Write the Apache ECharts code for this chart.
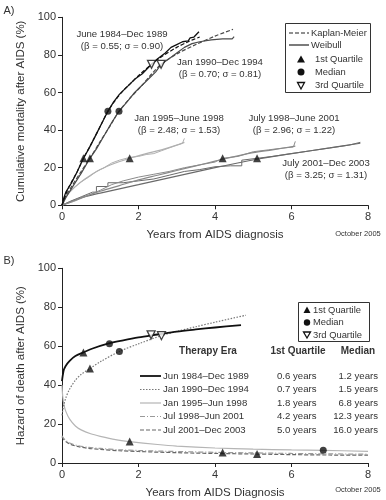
<!DOCTYPE html>
<html><head><meta charset="utf-8">
<script src="https://cdn.jsdelivr.net/npm/echarts@6/dist/echarts.min.js"></script>
<style>html,body{margin:0;padding:0;background:#fff}#c{width:386px;height:500px}</style>
</head><body><div id="c"></div>
<script>
// ---------- Panel A: cumulative mortality (x = years, y = %) ----------
const kmEra1 = [[0,0],[0.05,4],[0.1,7],[0.15,8],[0.25,12],[0.4,18],[0.56,25],[0.7,30],[0.9,38],[1.05,44],[1.2,50],[1.35,55],[1.5,59],[1.7,63],[1.9,67],[2.1,70],[2.34,75],[2.5,78],[2.7,81],[2.85,84],[3.0,85.5],[3.15,87],[3.3,87.5],[3.35,89],[3.45,89.5],[3.5,90.5],[3.58,92.3]];
const wbEra1 = [[0,0],[0.1,6],[0.2,10.5],[0.4,18],[0.56,25],[0.8,34],[1.0,42],[1.2,50],[1.4,56],[1.6,61],[1.8,65],[2.0,69],[2.34,75],[2.6,79],[3.0,84],[3.3,87],[3.6,89.5]];
const kmEra2 = [[0,0],[0.1,4],[0.25,9],[0.5,17],[0.73,25],[0.9,30],[1.1,37],[1.3,44],[1.49,50],[1.7,55],[1.9,60],[2.1,64],[2.3,68],[2.45,71],[2.59,75],[2.8,78],[3.0,81],[3.2,84],[3.4,86],[3.6,87],[3.9,88],[4.2,88.5],[4.45,88.5],[4.5,89.7]];
const wbEra2 = [[0,0],[0.1,5],[0.25,10],[0.5,18],[0.73,25],[1.0,34],[1.25,42],[1.49,50],[1.8,57.5],[2.1,64],[2.35,70],[2.59,75],[3.0,80.5],[3.5,85.5],[4.0,90],[4.47,93.6]];
const kmEra3 = [[0,0],[0.05,3],[0.1,5],[0.2,7.5],[0.35,10],[0.5,12.5],[0.7,15],[0.9,18],[1.1,20],[1.3,22.5],[1.5,24],[1.77,25.5],[2.0,26],[2.2,27],[2.4,27.5],[2.6,29],[2.8,30.5],[3.0,32],[3.15,33],[3.2,35.6]];
const wbEra3 = [[0,0],[0.1,4.5],[0.3,9],[0.6,14],[1.0,19],[1.4,22.5],[1.77,25],[2.2,27.5],[2.6,29.5],[3.0,32],[3.2,33.5]];
const kmEra4 = [[0,0],[0.3,2],[0.6,4.5],[1.0,8],[1.3,11],[1.6,13],[2.0,15],[2.4,16.5],[2.8,18],[3.2,20],[3.6,21.5],[4.0,23],[4.2,25],[4.6,26],[5.0,28.5],[5.4,29.5],[5.8,30.5],[6.05,31],[6.1,34]];
const wbEra4 = [[0,0],[0.5,4],[1,7.5],[1.5,10.5],[2,13.5],[2.5,16],[3,18.5],[3.5,21],[4,23.5],[4.2,24.5],[5,28],[5.5,29.5],[6.1,31.5]];
const kmEra5 = [[0,0],[0.2,2],[0.5,4.5],[0.8,7],[0.9,7],[0.9,10],[1.2,10],[1.2,12],[1.6,12],[1.6,13],[2.0,13],[2.0,14],[2.4,14],[2.4,15],[2.8,16],[3.2,18],[3.6,19],[4.0,20.5],[4.4,21],[4.7,21],[4.7,24],[5.1,25],[5.5,26],[6.0,27.5],[6.5,29],[7.0,30.5],[7.5,32],[7.8,33.5]];
const wbEra5 = [[0,0],[0.5,4],[1,6.5],[2,11],[3,15.5],[4,20],[5.1,24.5],[6,27.5],[7,30.5],[7.8,33]];
const aQ1 = [[0.56,25],[0.73,25],[1.77,25],[4.2,25],[5.1,25]];
const aMed = [[1.2,50],[1.49,50]];
const aQ3 = [[2.34,75],[2.59,75]];

// ---------- Panel B: hazard of death (x = years, y = %) ----------
const hzEra1 = [[0,42],[0.02,45],[0.05,48],[0.1,50],[0.2,52.5],[0.35,55],[0.56,56.8],[0.8,58.8],[1.2,61.3],[1.6,63],[2.0,64.5],[2.5,66],[3.0,67.5],[3.5,68.6],[4.0,69.6],[4.68,70.8]];
const hzEra2 = [[0,24.5],[0.02,27],[0.05,30],[0.1,33.5],[0.2,38],[0.35,42.5],[0.5,45.5],[0.73,48.5],[1.0,52],[1.5,57.3],[2.0,61.2],[2.6,65.4],[3.0,67.6],[3.5,70],[4.0,72.3],[4.81,75.9]];
const hzEra3 = [[0,40],[0.02,34],[0.05,30],[0.1,26.5],[0.2,22.5],[0.35,19],[0.5,17],[0.75,15],[1.0,13.7],[1.4,12],[1.77,11],[2.5,9.5],[3.0,8.7],[4.0,7.7],[5.0,7.1],[6.0,6.7],[6.83,6.5],[8.0,6]];
const hzEra4 = [[0,14],[0.05,12.5],[0.1,11.5],[0.2,10.3],[0.4,9],[0.7,8],[1.0,7.5],[1.5,6.8],[2.0,6.4],[3.0,5.9],[4.2,5.4],[5.0,5.2],[6.0,4.9],[7.0,4.7],[8.0,4.5]];
const hzEra5 = [[0,13.5],[0.05,12],[0.1,11],[0.2,9.8],[0.4,8.5],[0.7,7.5],[1.0,7],[1.5,6.3],[2.0,5.9],[3.0,5.3],[4.0,4.9],[5.1,4.6],[6.0,4.3],[7.0,4.1],[8.0,4]];
const bQ1 = [[0.56,56.8],[0.73,48.5],[1.77,11],[4.2,5.4],[5.1,4.6]];
const bMed = [[1.24,61.3],[1.5,57.3],[6.83,6.5]];
const bQ3 = [[2.33,65.8],[2.6,65.4]];

// ---------- labels ----------
const eraLabelsA = ['June 1984\u2013Dec 1989','Jan 1990\u2013Dec 1994','Jan 1995\u2013June 1998','July 1998\u2013June 2001','July 2001\u2013Dec 2003'];
const eraParamsA = ['(\u03b2 = 0.55; \u03c3 = 0.90)','(\u03b2 = 0.70; \u03c3 = 0.81)','(\u03b2 = 2.48; \u03c3 = 1.53)','(\u03b2 = 2.96; \u03c3 = 1.22)','(\u03b2 = 3.25; \u03c3 = 1.31)'];
const eraLabelsB = ['Jun 1984\u2013Dec 1989','Jan 1990\u2013Dec 1994','Jan 1995\u2013Jun 1998','Jul 1998\u2013Jun 2001','Jul 2001\u2013Dec 2003'];
const q1Years = ['0.6 years','0.7 years','1.8 years','4.2 years','5.0 years'];
const medYears = ['1.2 years','1.5 years','6.8 years','12.3 years','16.0 years'];

const FONT = '"Liberation Sans", Arial, sans-serif';
const TXT = '#333';
const eraColA = ['#111','#4a4a4a','#b0b0b0','#8a8a8a','#6a6a6a'];

function line(data, color, width, type, x, smooth) {
  return {type:'line', data, xAxisIndex:x, yAxisIndex:x, showSymbol:false, symbol:'none',
    smooth: smooth ? 0.3 : false,
    lineStyle:{color, width, type}, silent:true, z:2, animation:false};
}
function sc(data, sym, x, rot, open) {
  return {type:'scatter', data, xAxisIndex:x, yAxisIndex:x, symbol:sym, symbolSize: sym==='circle'?7:8,
    symbolRotate: rot||0,
    itemStyle:{color: open ? '#fff' : '#111', borderColor:'#111', borderWidth: open?1.3:0}, z:5, animation:false};
}
function xAx(gi, name) {
  return {type:'value', gridIndex:gi, min:0, max:8, interval:2,
    axisLine:{show:true,lineStyle:{color:'#222'}}, axisTick:{show:true,length:4,lineStyle:{color:'#222'}},
    axisLabel:{color:TXT,fontFamily:FONT,fontSize:11,margin:6}, splitLine:{show:false},
    name, nameLocation:'middle', nameGap:24, nameTextStyle:{color:TXT,fontFamily:FONT,fontSize:11.5}};
}
function yAx(gi, name) {
  return {type:'value', gridIndex:gi, min:0, max:100, interval:20,
    axisLine:{show:true,lineStyle:{color:'#222'}}, axisTick:{show:true,length:4,lineStyle:{color:'#222'}},
    axisLabel:{color:TXT,fontFamily:FONT,fontSize:11,margin:6}, splitLine:{show:false},
    name, nameLocation:'middle', nameGap:33, nameRotate:90, nameTextStyle:{color:TXT,fontFamily:FONT,fontSize:11.5}};
}
function tx(x,y,text,font,align) {
  return {type:'text', x, y, style:{text, fill:TXT, font:(font||'9.6px')+' '+FONT, textAlign:align||'center', textVerticalAlign:'middle'}};
}

const series = [
  line(wbEra5, eraColA[4], 1.2, 'solid', 0, true),
  line(kmEra5, eraColA[4], 1, 'solid', 0),
  line(wbEra4, eraColA[3], 1.2, 'solid', 0, true),
  line(kmEra4, eraColA[3], 1, 'solid', 0),
  line(wbEra3, eraColA[2], 1.2, 'solid', 0, true),
  line(kmEra3, eraColA[2], 1, 'solid', 0),
  line(wbEra2, eraColA[1], 1.2, [4,2], 0, true),
  line(kmEra2, eraColA[1], 1.2, 'solid', 0),
  line(wbEra1, eraColA[0], 1.2, [4,2], 0, true),
  line(kmEra1, eraColA[0], 1.3, 'solid', 0),
  sc(aQ1,'triangle',0), sc(aMed,'circle',0), sc(aQ3,'triangle',0,180,true),
  line(hzEra5, '#666', 1.2, [4,2], 1, true),
  line(hzEra4, '#999', 1.2, [5,2,1,2], 1, true),
  line(hzEra3, '#b5b5b5', 1.2, 'solid', 1, true),
  line(hzEra2, '#777', 1.2, [1.5,1.5], 1, true),
  line(hzEra1, '#111', 1.8, 'solid', 1, true),
  sc(bQ1,'triangle',1), sc(bMed,'circle',1), sc(bQ3,'triangle',1,180,true)
];

const g = [];
g.push(tx(9,11,'A)','11px')); g.push(tx(9,261,'B)','11px'));
const aPos = [[122,34],[220,62],[179,118],[294,118],[326,163]];
for (let i=0;i<5;i++){ g.push(tx(aPos[i][0],aPos[i][1],eraLabelsA[i])); g.push(tx(aPos[i][0],aPos[i][1]+12,eraParamsA[i])); }
g.push(tx(358,234,'October 2005','7.5px'));
g.push(tx(358,490,'October 2005','7.5px'));
// legend A
g.push({type:'rect', shape:{x:285.5,y:23.5,width:85,height:69}, style:{fill:'#fff',stroke:'#333',lineWidth:1}, z:10});
g.push({type:'line', shape:{x1:289,y1:33,x2:309,y2:33}, style:{stroke:'#222',lineWidth:1.2,lineDash:[4,2]}, z:11});
g.push({type:'line', shape:{x1:289,y1:45,x2:309,y2:45}, style:{stroke:'#222',lineWidth:1.2}, z:11});
g.push(Object.assign(tx(311,33,'Kaplan-Meier','9.4px','left'),{z:11}));
g.push(Object.assign(tx(311,45,'Weibull','9.4px','left'),{z:11}));
g.push({type:'polygon', shape:{points:[[301,55.5],[297,62.5],[305,62.5]]}, style:{fill:'#111'}, z:11});
g.push({type:'circle', shape:{cx:301,cy:72,r:3.5}, style:{fill:'#111'}, z:11});
g.push({type:'polygon', shape:{points:[[297.5,82.5],[304.5,82.5],[301,89]]}, style:{fill:'#fff',stroke:'#111',lineWidth:1.3}, z:11});
g.push(Object.assign(tx(315,59.5,'1st Quartile','9.4px','left'),{z:11}));
g.push(Object.assign(tx(315,72,'Median','9.4px','left'),{z:11}));
g.push(Object.assign(tx(315,85.5,'3rd Quartile','9.4px','left'),{z:11}));
// legend B
g.push({type:'rect', shape:{x:298.5,y:302.5,width:71,height:39}, style:{fill:'#fff',stroke:'#333',lineWidth:1}, z:10});
g.push({type:'polygon', shape:{points:[[307,306.5],[303.5,313],[310.5,313]]}, style:{fill:'#111'}, z:11});
g.push({type:'circle', shape:{cx:307,cy:322.5,r:3.2}, style:{fill:'#111'}, z:11});
g.push({type:'polygon', shape:{points:[[303.5,332],[310.5,332],[307,338]]}, style:{fill:'#fff',stroke:'#111',lineWidth:1.3}, z:11});
g.push(Object.assign(tx(313,310,'1st Quartile','9.4px','left'),{z:11}));
g.push(Object.assign(tx(313,322.5,'Median','9.4px','left'),{z:11}));
g.push(Object.assign(tx(313,335.5,'3rd Quartile','9.4px','left'),{z:11}));
// table B
g.push(tx(208,351,'Therapy Era','bold 10px'));
g.push(tx(298,351,'1st Quartile','bold 10px'));
g.push(tx(358,351,'Median','bold 10px'));
const rowY = [376,389.5,403,416.5,430];
const sample = [
  {stroke:'#111',lineWidth:1.8},
  {stroke:'#777',lineWidth:1.2,lineDash:[1.5,1.5]},
  {stroke:'#b5b5b5',lineWidth:1.2},
  {stroke:'#999',lineWidth:1.2,lineDash:[5,2,1,2]},
  {stroke:'#666',lineWidth:1.2,lineDash:[4,2]}
];
for (let i=0;i<5;i++){
  g.push({type:'line', shape:{x1:140,y1:rowY[i],x2:161,y2:rowY[i]}, style:sample[i]});
  g.push(tx(163,rowY[i],eraLabelsB[i],'9.6px','left'));
  g.push(tx(316.5,rowY[i],q1Years[i],'9.6px','right'));
  g.push(tx(378,rowY[i],medYears[i],'9.6px','right'));
}

const chart = echarts.init(document.getElementById('c'), null, {renderer:'canvas'});
chart.setOption({
  animation:false,
  backgroundColor:'#fff',
  grid:[{left:62,top:17.3,width:306,height:188},{left:62,top:268.3,width:306,height:195}],
  xAxis:[xAx(0,'Years from AIDS diagnosis'), xAx(1,'Years from AIDS Diagnosis')],
  yAxis:[yAx(0,'Cumulative mortality after AIDS (%)'), yAx(1,'Hazard of death after AIDS (%)')],
  series,
  graphic: g
});
</script></body></html>
